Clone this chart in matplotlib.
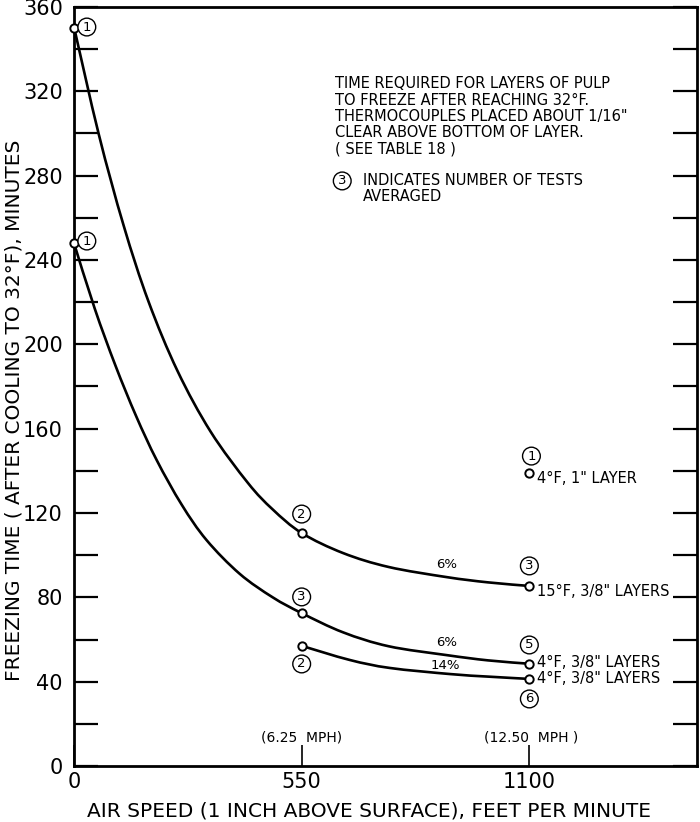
import matplotlib
matplotlib.use("Agg")
import matplotlib.pyplot as plt
from matplotlib.path import Path
from matplotlib.patches import PathPatch
import numpy as np

# ---- data ----
# measured test points (air speed ft/min, freezing time min)
pts_15F_x = [0, 550, 1100]
pts_15F_y = [350, 110.5, 85.4]
pts_4F_x = [0, 550, 1100]
pts_4F_y = [248, 72.5, 48.5]
pts_4Fb_x = [550, 1100]
pts_4Fb_y = [57, 41.3]
pt_1in_x = [1100]
pt_1in_y = [139]

# hand-drawn curves
curve_15F_x = [0, 60, 120, 180, 250, 330, 420, 480, 550, 650, 760, 900, 1000, 1100]
curve_15F_y = [350.5, 299.5, 256.3, 220.3, 187.4, 158.6, 134.3, 121.7, 110.5, 101, 94.4, 89.6, 87.1, 85.4]
curve_4F_x = [0, 50, 100, 150, 200, 260, 320, 400, 480, 550, 650, 760, 900, 1000, 1100]
curve_4F_y = [248, 217, 190, 166, 145, 124, 107.2, 91.2, 80, 72.5, 63.4, 56.8, 52.6, 50.1, 48.5]
curve_4Fb_x = [550, 666, 763, 909, 1000, 1100]
curve_4Fb_y = [57, 50.3, 46.5, 43.6, 42.4, 41.3]

# number-of-tests annotations
tests_x = [31, 31, 550, 550, 550, 1105, 1100, 1100, 1100]
tests_y = [350.5, 249, 119.5, 80.2, 48.4, 147, 94.9, 57.4, 31.8]
tests_n = ["1", "1", "2", "3", "2", "1", "3", "5", "6"]

y_ticks = list(range(0, 361, 40))
y_minor = list(range(20, 360, 40))
x_ticks = [0, 550, 1100]

curve_names = ['4°F, 1" LAYER', '15°F, 3/8" LAYERS', '4°F, 3/8" LAYERS', '4°F, 3/8" LAYERS']
curve_name_y = [136.6, 83.0, 49.3, 41.7]

pct_x = [901, 901, 896]
pct_y = [95.4, 58.8, 47.9]
pct_t = ["6%", "6%", "14%"]

note_lines = ["TIME REQUIRED FOR LAYERS OF PULP",
              "TO FREEZE AFTER REACHING 32°F.",
              'THERMOCOUPLES PLACED ABOUT 1/16"',
              "CLEAR ABOVE BOTTOM OF LAYER.",
              "( SEE TABLE 18 )"]

COND = ['Liberation Sans Narrow', 'DejaVu Sans Condensed', 'DejaVu Sans']
plt.rcParams['font.family'] = ['DejaVu Sans']
fig = plt.figure(figsize=(7, 8.22), dpi=100)
ax = fig.add_axes([74/700, 1-766/822, (697-74)/700, (766-7)/822])
ax.set_xlim(0, 1505)
ax.set_ylim(0, 360)


def smooth_curve(ax, xs, ys, lw):
    P = np.column_stack([xs, ys]).astype(float)
    n = len(P)
    verts = [tuple(P[0])]
    codes = [Path.MOVETO]
    for i in range(n - 1):
        p0 = P[i - 1] if i > 0 else P[i]
        p1 = P[i]
        p2 = P[i + 1]
        p3 = P[i + 2] if i + 2 < n else P[i + 1]
        c1 = p1 + (p2 - p0) / 6.0
        c2 = p2 - (p3 - p1) / 6.0
        verts += [tuple(c1), tuple(c2), tuple(p2)]
        codes += [Path.CURVE4] * 3
    ax.add_patch(PathPatch(Path(verts, codes), fc='none', ec='black', lw=lw,
                           zorder=2, capstyle='round'))


lw = 1.9
smooth_curve(ax, curve_15F_x, curve_15F_y, lw)
smooth_curve(ax, curve_4F_x, curve_4F_y, lw)
smooth_curve(ax, curve_4Fb_x, curve_4Fb_y, lw)
for xs, ys in [(pts_15F_x, pts_15F_y), (pts_4F_x, pts_4F_y), (pts_4Fb_x, pts_4Fb_y), (pt_1in_x, pt_1in_y)]:
    ax.plot(xs, ys, linestyle='none', marker='o', ms=6, mfc='white', mec='black', mew=1.4,
            zorder=4, clip_on=False)

for x, y, n in zip(tests_x, tests_y, tests_n):
    ax.text(x, y, n, ha='center', va='center', fontsize=9.5, zorder=5,
            bbox=dict(boxstyle='circle,pad=0.18', fc='white', ec='black', lw=1.0))

for t, y in zip(curve_names, curve_name_y):
    ax.text(1119, y, t, ha='left', va='center', fontsize=10.5, zorder=5)

for x, y, t in zip(pct_x, pct_y, pct_t):
    ax.text(x, y, t, ha='center', va='center', fontsize=9.5, zorder=5)

for i, line in enumerate(note_lines):
    ax.text(630, 323.5 - i*7.7, line, ha='left', va='center', fontsize=10.5)
ax.text(648, 277.5, "3", ha='center', va='center', fontsize=9.5,
        bbox=dict(boxstyle='circle,pad=0.18', fc='white', ec='black', lw=1.0))
ax.text(698, 277.5, "INDICATES NUMBER OF TESTS", ha='left', va='center', fontsize=10.5)
ax.text(698, 270, "AVERAGED", ha='left', va='center', fontsize=10.5)

ax.text(550, 13.3, "(6.25  MPH)", ha='center', va='center', fontsize=10)
ax.text(1105, 13.3, "(12.50  MPH )", ha='center', va='center', fontsize=10)

ax.set_yticks(y_ticks)
ax.set_yticklabels([str(v) for v in y_ticks], family=COND)
ax.set_yticks(y_minor, minor=True)
ax.set_xticks(x_ticks)
ax.set_xticklabels([str(v) for v in x_ticks], family=COND)
ax.tick_params(axis='y', which='both', direction='in', length=17, width=1.6,
               left=True, right=True, labelsize=15, pad=8)
ax.tick_params(axis='x', which='both', direction='in', length=15, width=1.2,
               bottom=True, top=False, labelsize=15, pad=4)
for s in ax.spines.values():
    s.set_linewidth(2.0)

fig.text(14/700, 1-410/822, "FREEZING TIME ( AFTER COOLING TO 32°F), MINUTES",
         rotation=90, ha='center', va='center', fontsize=14.5)
fig.text(369/700, 1-811/822, "AIR SPEED (1 INCH ABOVE SURFACE), FEET PER MINUTE",
         ha='center', va='center', fontsize=14.5)

fig.savefig("out.png", dpi=100)
